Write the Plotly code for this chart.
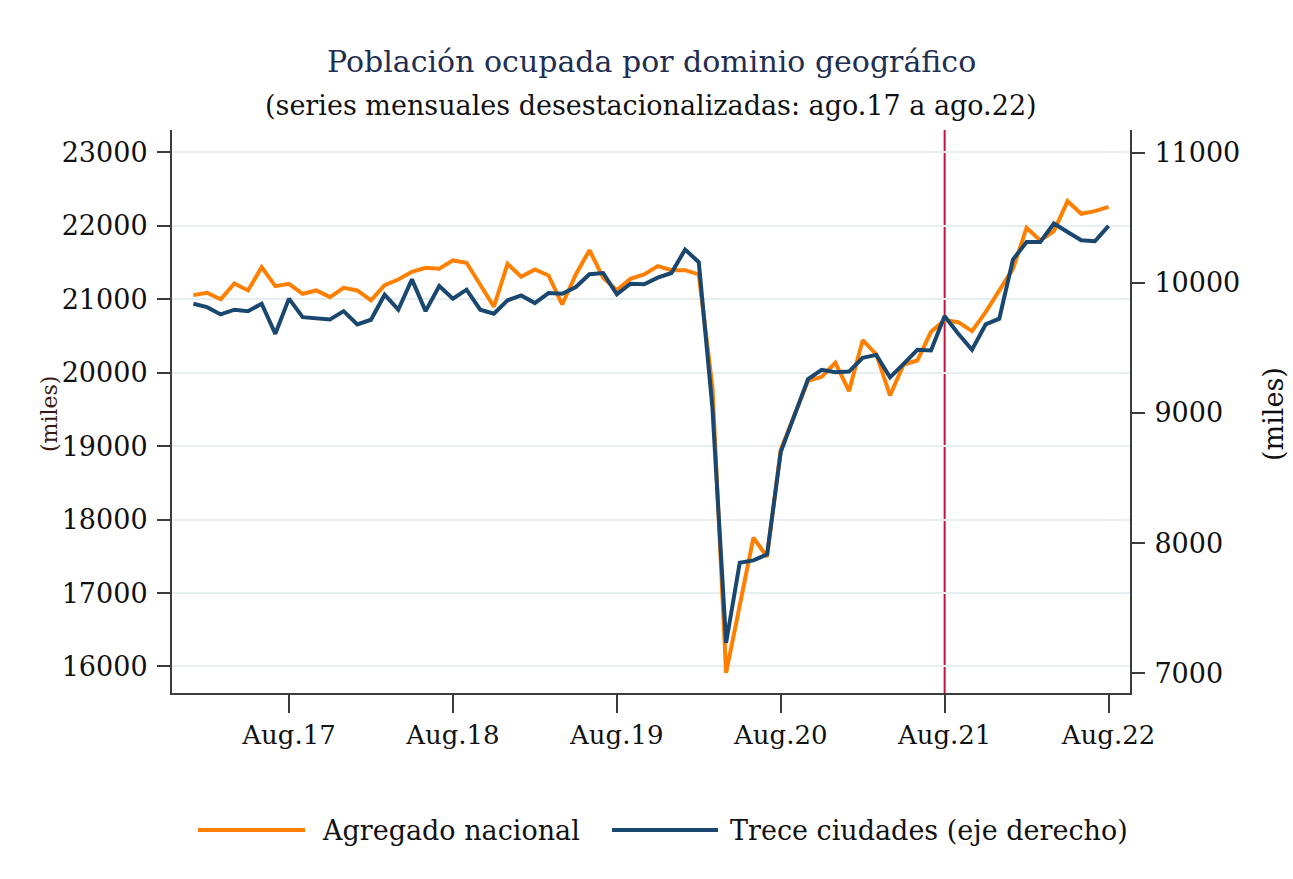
import pandas as pd
import plotly.graph_objects as go

# Monthly periods, Jan 2017 - Aug 2022
months = [p.strftime("%Y-%m") for p in pd.period_range("2017-01", "2022-08", freq="M")]

# Población ocupada, agregado nacional (miles, eje izquierdo)
nacional = [
    21057, 21089, 21000, 21216, 21121, 21438, 21180, 21212, 21076, 21121, 21030, 21157,
    21121, 20985, 21193, 21270, 21375, 21430, 21416, 21530, 21498, 21198, 20899, 21484,
    21307, 21407, 21325, 20930, 21339, 21670, 21293, 21125, 21280, 21339, 21452, 21397,
    21397, 21339, 19800, 15914, 16835, 17753, 17494, 18950, 19420, 19890, 19945, 20136,
    19750, 20444, 20249, 19691, 20113, 20167, 20558, 20716, 20689, 20567, 20825, 21111,
    21416, 21975, 21802, 21928, 22337, 22165, 22201, 22260,
]

# Población ocupada, trece ciudades (miles, eje derecho)
trece = [
    9839, 9813, 9757, 9793, 9782, 9839, 9608, 9878, 9736, 9724, 9718, 9782,
    9680, 9716, 9908, 9793, 10026, 9782, 9975, 9878, 9947, 9793, 9762, 9865,
    9903, 9844, 9921, 9916, 9967, 10065, 10075, 9911, 9993, 9988, 10039, 10075,
    10255, 10158, 9040, 7234, 7850, 7868, 7914, 8700, 8975, 9260, 9331, 9313,
    9318, 9423, 9446, 9274, 9377, 9485, 9480, 9744, 9608, 9485, 9680, 9724,
    10178, 10313, 10313, 10455, 10390, 10326, 10319, 10437,
]

tick_months = ["2017-08", "2018-08", "2019-08", "2020-08", "2021-08", "2022-08"]
tick_labels = ["Aug.17", "Aug.18", "Aug.19", "Aug.20", "Aug.21", "Aug.22"]
marker_month = "2021-08"

left_ticks = [16000, 17000, 18000, 19000, 20000, 21000, 22000, 23000]
right_ticks = [7000, 8000, 9000, 10000, 11000]

legend_names = ["Agregado nacional", "Trece ciudades (eje derecho)"]

ORANGE = "#ff8000"
NAVY = "#1a476f"
AXIS = "#3c3c3c"
GRID = "#e6eef1"
FONT = "DejaVu Serif"

W, H = 1293, 879
ML, MR, MT, MB = 172, 163, 130, 186
PW, PH = W - ML - MR, H - MT - MB


def px(x):
    return (x - ML) / PW


def py(y):
    return (H - MB - y) / PH


xs = list(range(len(months)))
tick_pos = [months.index(m) for m in tick_months]

fig = go.Figure()
fig.add_trace(go.Scatter(x=xs, y=nacional, mode="lines", name=legend_names[0],
                         line=dict(color=ORANGE, width=4), yaxis="y"))
fig.add_trace(go.Scatter(x=xs, y=trece, mode="lines", name=legend_names[1],
                         line=dict(color=NAVY, width=4), yaxis="y2"))

# vertical reference line at Aug.21
mx = months.index(marker_month)
fig.add_shape(type="line", xref="x", yref="paper", x0=mx, x1=mx, y0=0, y1=1,
              line=dict(color="#c0143c", width=2), layer="below")

# legend drawn as line samples + labels
legend_y = py(830)
fig.add_shape(type="line", xref="paper", yref="paper", x0=px(198), x1=px(305),
              y0=legend_y, y1=legend_y, line=dict(color=ORANGE, width=4))
fig.add_shape(type="line", xref="paper", yref="paper", x0=px(612), x1=px(718),
              y0=legend_y, y1=legend_y, line=dict(color=NAVY, width=4))
fig.add_annotation(xref="paper", yref="paper", x=px(320), y=legend_y, text=legend_names[0],
                   showarrow=False, xanchor="left", yanchor="middle",
                   font=dict(family=FONT, size=27, color="#111111"))
fig.add_annotation(xref="paper", yref="paper", x=px(728), y=legend_y, text=legend_names[1],
                   showarrow=False, xanchor="left", yanchor="middle",
                   font=dict(family=FONT, size=27, color="#111111"))

# titles
fig.add_annotation(xref="paper", yref="paper", x=0.5, y=py(62),
                   text="Población ocupada por dominio geográfico", showarrow=False,
                   xanchor="center", yanchor="middle",
                   font=dict(family=FONT, size=30, color="#1f2f52"))
fig.add_annotation(xref="paper", yref="paper", x=0.5, y=py(106),
                   text="(series mensuales desestacionalizadas: ago.17 a ago.22)", showarrow=False,
                   xanchor="center", yanchor="middle",
                   font=dict(family=FONT, size=27, color="#111111"))

# axis unit labels
fig.add_annotation(xref="paper", yref="paper", x=px(49), y=py(414), text="(miles)",
                   showarrow=False, textangle=-90, xanchor="center", yanchor="middle",
                   font=dict(family=FONT, size=22, color="#3a1a10"))
fig.add_annotation(xref="paper", yref="paper", x=px(1273), y=py(414), text="(miles)",
                   showarrow=False, textangle=-90, xanchor="center", yanchor="middle",
                   font=dict(family=FONT, size=27, color="#111111"))

fig.update_layout(
    width=W, height=H,
    margin=dict(l=ML, r=MR, t=MT, b=MB),
    paper_bgcolor="white", plot_bgcolor="white",
    showlegend=False,
    font=dict(family=FONT, color="#111111"),
    xaxis=dict(range=[-1.565, 68.57], tickvals=tick_pos, ticktext=tick_labels,
               ticks="outside", ticklen=18, tickwidth=2, tickcolor=AXIS,
               showline=True, linecolor=AXIS, linewidth=2, showgrid=False,
               zeroline=False, tickfont=dict(family=FONT, size=26, color="#111111")),
    yaxis=dict(range=[15639, 23306], tickvals=left_ticks, ticks="outside", ticklen=13,
               tickwidth=2, tickcolor=AXIS, showline=True, linecolor=AXIS, linewidth=2,
               showgrid=True, gridcolor=GRID, gridwidth=2, zeroline=False,
               ticklabelstandoff=4, tickformat="d",
               tickfont=dict(family=FONT, size=27, color="#111111")),
    yaxis2=dict(range=[6850, 11173], tickvals=right_ticks, overlaying="y", side="right",
                ticks="outside", ticklen=13, tickwidth=2, tickcolor=AXIS,
                showline=True, linecolor=AXIS, linewidth=2, showgrid=False,
                zeroline=False, ticklabelstandoff=4, tickformat="d",
                tickfont=dict(family=FONT, size=27, color="#111111")),
)

fig.write_html("out.html")
